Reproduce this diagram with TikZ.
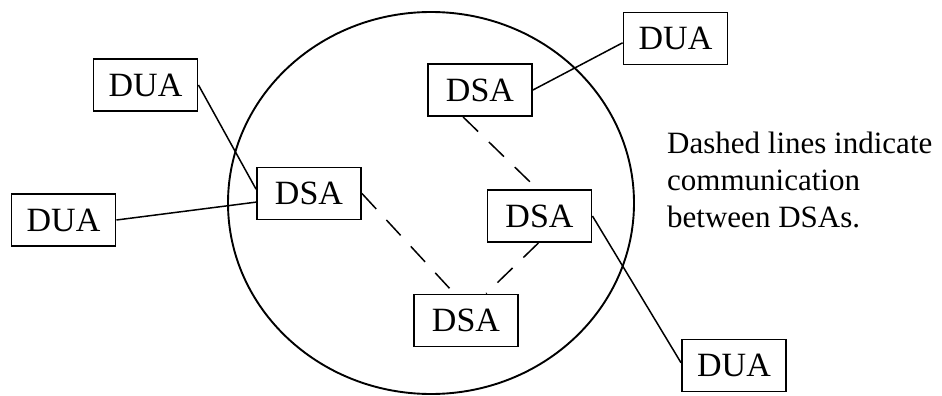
\documentclass[tikz,border=0pt]{standalone}
\usepackage{fontspec}
\setmainfont{Liberation Serif}
\usetikzlibrary{calc}
\begin{document}
\begin{tikzpicture}[x=1pt,y=-1pt,
  agent/.style={draw, line width=1.9pt, minimum width=104pt, minimum height=52pt,
    inner sep=0pt, font=\fontsize{34}{38}\selectfont},
  link/.style={line width=1.5pt},
  dashlink/.style={line width=1.5pt, dash pattern=on 21pt off 15pt}]
\useasboundingbox (0,0) rectangle (942,396);

% directory boundary
\draw[line width=1.9pt] (431,203) ellipse [x radius=203pt, y radius=191pt];

% agents
\node[agent] (dua1) at (145.5,85)  {DUA};
\node[agent] (dua2) at (63.5,220)  {DUA};
\node[agent] (dsa1) at (309,193.5) {DSA};
\node[agent] (dsa2) at (480,90)    {DSA};
\node[agent] (dua3) at (675.5,38.5){DUA};
\node[agent] (dsa3) at (539.5,216) {DSA};
\node[agent] (dsa4) at (466,320.5) {DSA};
\node[agent] (dua4) at (734,365.5) {DUA};

% user agents attached to DSAs
\draw[link] (dua1.east) -- ($(dsa1.north west)!0.42!(dsa1.south west)$);
\draw[link] (dua2.east) -- ($(dsa1.north west)!0.66!(dsa1.south west)$);
\draw[link] (dsa2.east) -- ($(dua3.north west)!0.58!(dua3.south west)$);
\draw[link] (dsa3.east) -- ($(dua4.north west)!0.45!(dua4.south west)$);

% communication between DSAs
\draw[dashlink] ($(dsa2.south west)!0.34!(dsa2.south east)$) -- ($(dsa3.north west)!0.48!(dsa3.north east)$);
\draw[dashlink] (dsa1.east) -- ($(dsa4.north west)!0.39!(dsa4.north east)$);
\draw[dashlink] ($(dsa3.south west)!0.49!(dsa3.south east)$) -- ($(dsa4.north west)!0.69!(dsa4.north east)$);

% legend (base anchor sits on the last line)
\node[anchor=base west, inner sep=0pt, align=left, font=\fontsize{31}{37}\selectfont]
  (note) at (667,227) {Dashed lines indicate\\communication\\between DSAs.};
\end{tikzpicture}
\end{document}
